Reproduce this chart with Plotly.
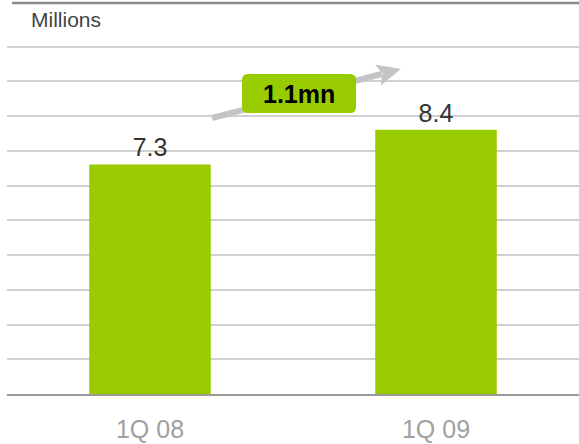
import math
import plotly.graph_objects as go

categories = ["1Q 08", "1Q 09"]
values = [7.3, 8.4]
value_labels = ["7.3", "8.4"]
unit_label = "Millions"
change_label = "1.1mn"

FONT = "Arial, Liberation Sans, sans-serif"
GREEN = "#99cc00"

W, H = 579, 444
L, R, T, B = 7, 0, 43, 50
PW, PH = W - L - R, H - T - B
DT = 1.105
YMAX = PH / (347.5 / (10 * DT))


def px(x):
    return (x - L) / PW


def py(y):
    return (H - B - y) / PH


fig = go.Figure(go.Bar(
    x=categories, y=values, text=value_labels, textposition="outside",
    marker=dict(color=GREEN, line=dict(width=0)),
    textfont=dict(family=FONT, size=25, color="#333333"),
    cliponaxis=False, hoverinfo="skip",
))

# arrow (drawn as shapes so that the box lies over it)
tx, ty, hx, hy = 212, 118, 401, 69
d = math.hypot(hx - tx, hy - ty)
ux, uy = (hx - tx) / d, (hy - ty) / d
nx, ny = -uy, ux
hl, hw, notch = 24, 11, 5
bx, by = hx - hl * ux, hy - hl * uy
pts = [(hx, hy), (bx + hw * nx, by + hw * ny), (bx + notch * ux, by + notch * uy),
       (bx - hw * nx, by - hw * ny)]
head = "M " + " L ".join(f"{px(a)},{py(b)}" for a, b in pts) + " Z"
ex, ey = hx - (hl - 4) * ux, hy - (hl - 4) * uy

# rounded green box
x0, x1, y0, y1 = px(242), px(356), py(113), py(74)
rx, ry = 6 / PW, 6 / PH
box = (f"M {x0+rx},{y0} L {x1-rx},{y0} Q {x1},{y0} {x1},{y0+ry} "
       f"L {x1},{y1-ry} Q {x1},{y1} {x1-rx},{y1} L {x0+rx},{y1} "
       f"Q {x0},{y1} {x0},{y1-ry} L {x0},{y0+ry} Q {x0},{y0} {x0+rx},{y0} Z")

ARROW = "#c4c4c4"
fig.update_layout(
    width=W, height=H,
    margin=dict(l=L, r=R, t=T, b=B),
    paper_bgcolor="white", plot_bgcolor="white",
    showlegend=False,
    bargap=0.575,
    xaxis=dict(showgrid=False, showline=True, linecolor="#999999", linewidth=2,
               ticks="outside", ticklen=12, tickcolor="rgba(0,0,0,0)",
               tickfont=dict(family=FONT, size=25, color="#a0a0a0"), fixedrange=True),
    yaxis=dict(range=[0, YMAX], dtick=DT, tick0=0, showticklabels=False,
               showgrid=True, gridcolor="#d0d0d0", gridwidth=1.5, zeroline=False,
               fixedrange=True),
    shapes=[
        dict(type="line", xref="paper", yref="paper", x0=px(12), x1=1.0,
             y0=py(3), y1=py(3), line=dict(color="#888888", width=2.5)),
        dict(type="line", xref="paper", yref="paper", x0=px(tx), y0=py(ty),
             x1=px(ex), y1=py(ey), line=dict(color=ARROW, width=6)),
        dict(type="path", xref="paper", yref="paper", path=head,
             fillcolor=ARROW, line=dict(width=0)),
        dict(type="path", xref="paper", yref="paper", path=box,
             fillcolor=GREEN, line=dict(width=0)),
    ],
    annotations=[
        dict(xref="paper", yref="paper", x=px(29), y=py(19), xanchor="left",
             yanchor="middle", text=unit_label, showarrow=False,
             font=dict(family=FONT, size=21, color="#444444")),
        dict(xref="paper", yref="paper", x=(x0 + x1) / 2, y=(y0 + y1) / 2,
             xanchor="center", yanchor="middle",
             text=f"<b>{change_label}</b>", showarrow=False,
             font=dict(family=FONT, size=25, color="#000000")),
    ],
)

fig.write_html("out.html", config={"displayModeBar": False},
               post_script="document.body.style.margin='0';")
